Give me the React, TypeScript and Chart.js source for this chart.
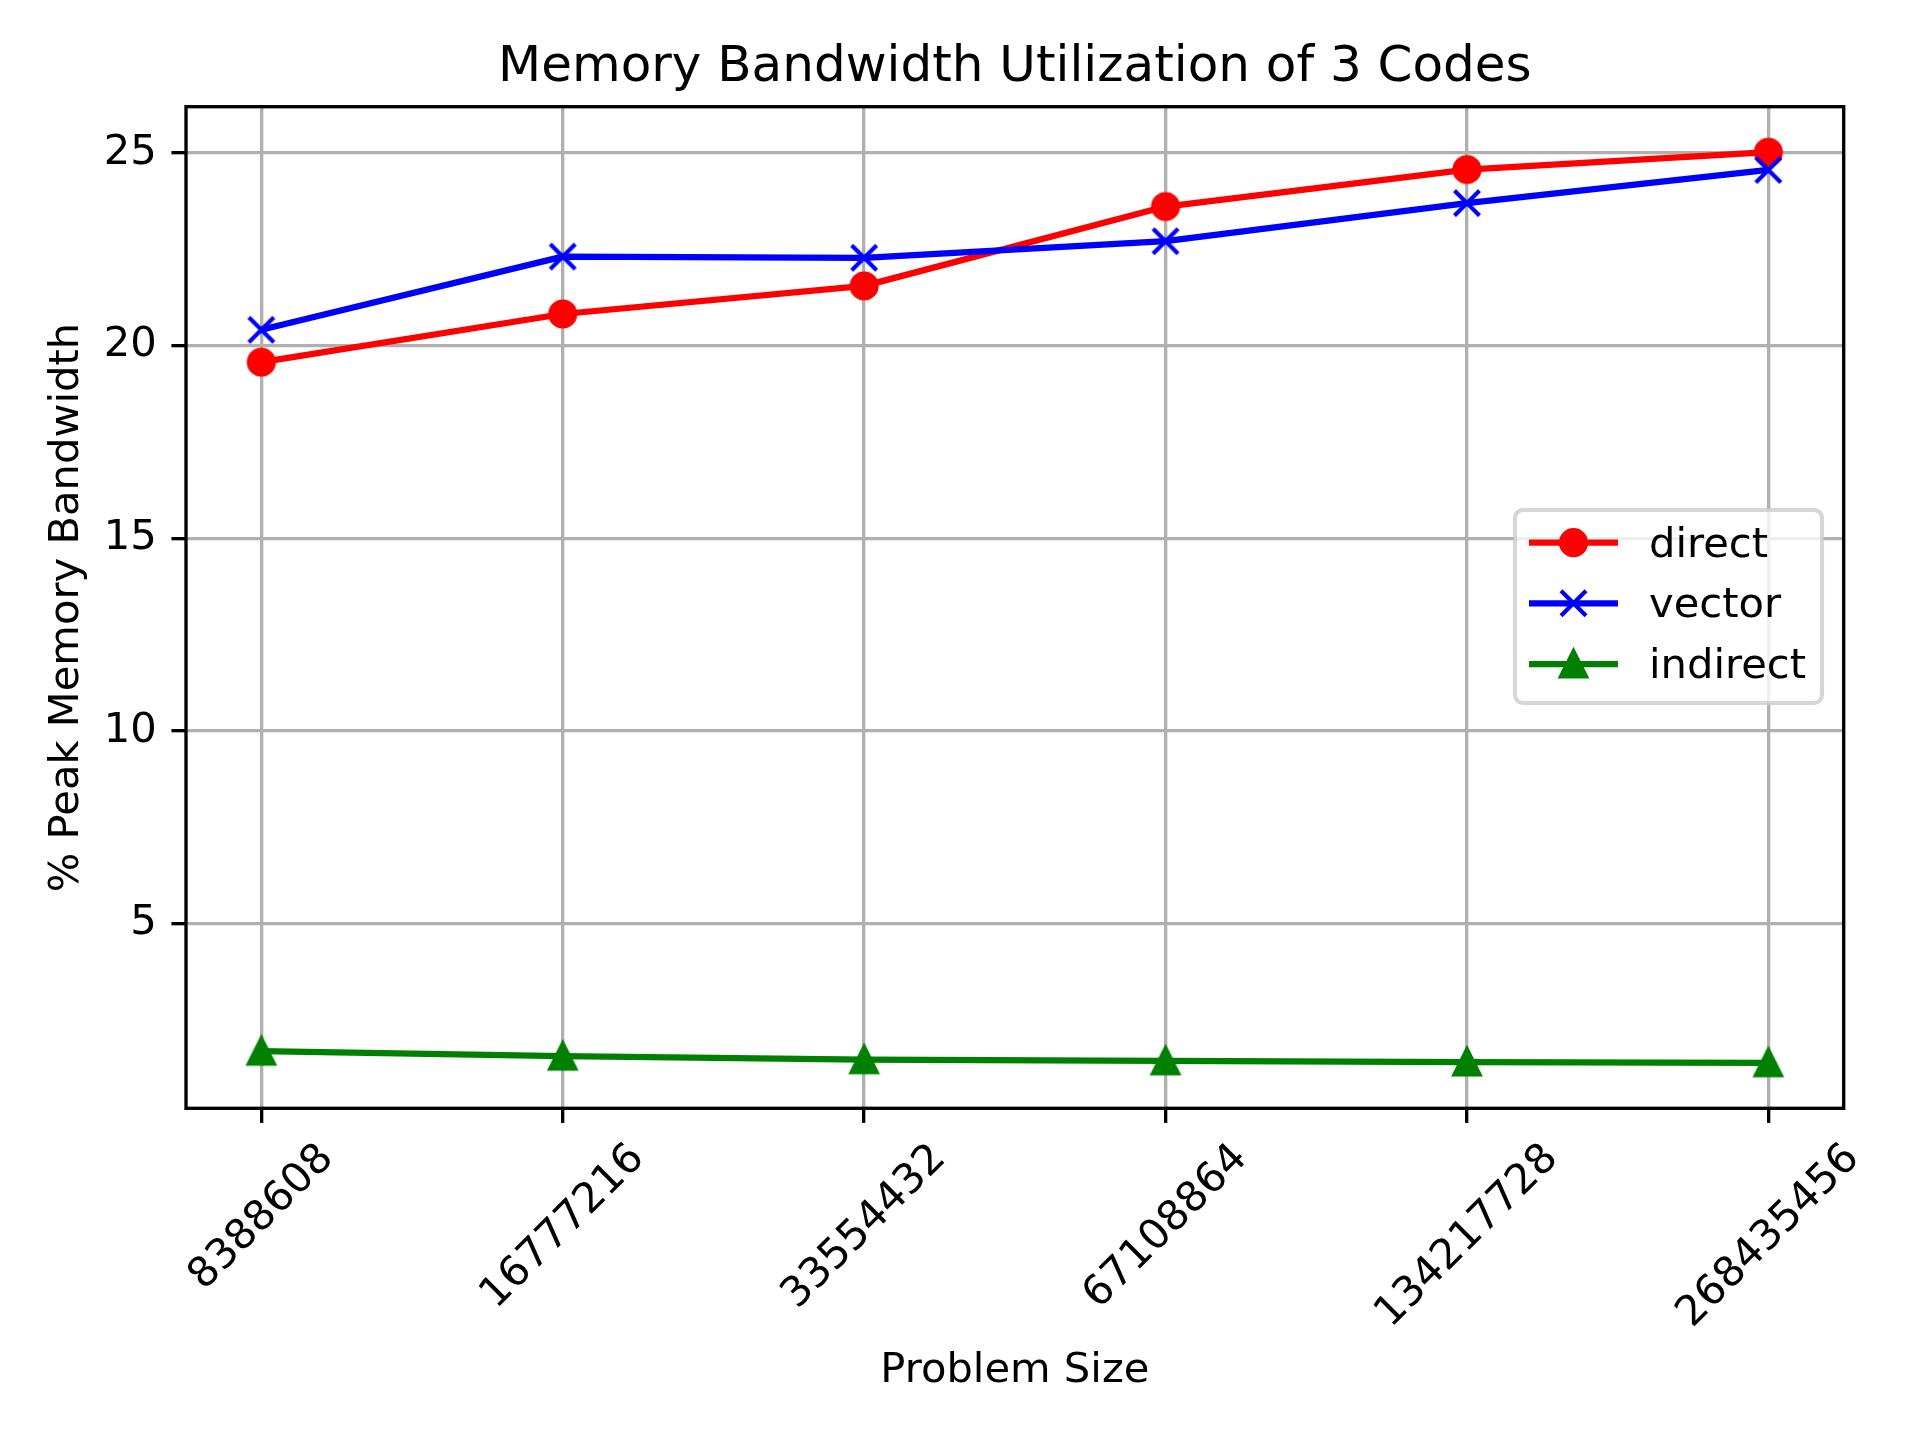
import React, { useEffect, useRef } from 'react';
import { Chart, registerables } from 'chart.js';

Chart.register(...registerables);

// ---- data ----
const problemSizes = ['8388608', '16777216', '33554432', '67108864', '134217728', '268435456'];
const directValues = [19.57, 20.82, 21.55, 23.61, 24.57, 25.02];
const vectorValues = [20.41, 22.31, 22.28, 22.71, 23.7, 24.56];
const indirectValues = [1.68, 1.55, 1.46, 1.43, 1.4, 1.38];
const yTickValues = [5, 10, 15, 20, 25];
const seriesNames = ['direct', 'vector', 'indirect'];

const titleText = 'Memory Bandwidth Utilization of 3 Codes';
const xLabelText = 'Problem Size';
const yLabelText = '% Peak Memory Bandwidth';

// ---- style ----
const PT = 300 / 72;
const FONT = '"DejaVu Sans", sans-serif';
const W = 1920;
const H = 1440;
const AREA = { left: 186, top: 106.7, right: 1843.7, bottom: 1108.3 };
const COLORS = ['#ff0000', '#0000ff', '#008000'];
const MARKERS = ['o', 'x', '^'];

function drawMarker(ctx: CanvasRenderingContext2D, kind: string, color: string, x: number, y: number) {
  const s = (6 * PT) / 2;
  ctx.save();
  ctx.fillStyle = color;
  ctx.strokeStyle = color;
  ctx.lineWidth = 1 * PT;
  if (kind === 'o') {
    ctx.beginPath();
    ctx.arc(x, y, s, 0, Math.PI * 2);
    ctx.fill();
    ctx.stroke();
  } else if (kind === 'x') {
    ctx.lineCap = 'butt';
    ctx.beginPath();
    ctx.moveTo(x - s, y - s);
    ctx.lineTo(x + s, y + s);
    ctx.moveTo(x - s, y + s);
    ctx.lineTo(x + s, y - s);
    ctx.stroke();
  } else {
    ctx.lineJoin = 'miter';
    ctx.beginPath();
    ctx.moveTo(x, y - s);
    ctx.lineTo(x - s, y + s);
    ctx.lineTo(x + s, y + s);
    ctx.closePath();
    ctx.fill();
    ctx.stroke();
  }
  ctx.restore();
}

function makeMarkerCanvas(kind: string, color: string) {
  const c = document.createElement('canvas');
  c.width = 48;
  c.height = 48;
  const ctx = c.getContext('2d')!;
  drawMarker(ctx, kind, color, 24, 24);
  return c;
}

const decorPlugin = {
  id: 'mplDecor',
  afterDraw(chart: any) {
    const ctx: CanvasRenderingContext2D = chart.ctx;
    const xs = chart.scales.x;
    const ca = chart.chartArea;
    ctx.save();

    // spines
    ctx.strokeStyle = '#000';
    ctx.lineWidth = 0.8 * PT;
    ctx.lineJoin = 'miter';
    ctx.strokeRect(ca.left, ca.top, ca.right - ca.left, ca.bottom - ca.top);

    // x tick labels (rotated 45, centered on tick)
    const fs = 10 * PT;
    ctx.font = `${fs}px ${FONT}`;
    ctx.fillStyle = '#000';
    const h = fs * 0.968;
    const d = fs * 0.208;
    const topY = ca.bottom + 3.5 * PT + 3.5 * PT;
    problemSizes.forEach((lab, i) => {
      const px = xs.getPixelForValue(i);
      const w = ctx.measureText(lab).width;
      const cy = topY + ((w + h) * Math.SQRT1_2) / 2;
      ctx.save();
      ctx.translate(px, cy);
      ctx.rotate(-Math.PI / 4);
      ctx.textAlign = 'center';
      ctx.textBaseline = 'alphabetic';
      ctx.fillText(lab, 0, h / 2 - d);
      ctx.restore();
    });

    // title
    const cx = (ca.left + ca.right) / 2;
    ctx.textAlign = 'center';
    ctx.textBaseline = 'alphabetic';
    ctx.font = `${12 * PT}px ${FONT}`;
    ctx.fillText(titleText, cx, 81);

    // x label
    ctx.font = `${fs}px ${FONT}`;
    ctx.fillText(xLabelText, cx, 1382);

    // y label
    ctx.save();
    ctx.translate(78, (ca.top + ca.bottom) / 2);
    ctx.rotate(-Math.PI / 2);
    ctx.fillText(yLabelText, 0, 0);
    ctx.restore();

    // legend
    const bx = 1515, by = 510, bw = 307, bh = 193, r = 8;
    ctx.beginPath();
    ctx.moveTo(bx + r, by);
    ctx.lineTo(bx + bw - r, by);
    ctx.arcTo(bx + bw, by, bx + bw, by + r, r);
    ctx.lineTo(bx + bw, by + bh - r);
    ctx.arcTo(bx + bw, by + bh, bx + bw - r, by + bh, r);
    ctx.lineTo(bx + r, by + bh);
    ctx.arcTo(bx, by + bh, bx, by + bh - r, r);
    ctx.lineTo(bx, by + r);
    ctx.arcTo(bx, by, bx + r, by, r);
    ctx.closePath();
    ctx.fillStyle = 'rgba(255,255,255,0.8)';
    ctx.fill();
    ctx.strokeStyle = 'rgba(204,204,204,0.8)';
    ctx.lineWidth = 1 * PT;
    ctx.stroke();

    const rows = [542.7, 603.3, 664];
    seriesNames.forEach((name, i) => {
      const ry = rows[i];
      ctx.strokeStyle = COLORS[i];
      ctx.lineWidth = 1.5 * PT;
      ctx.lineCap = 'butt';
      ctx.beginPath();
      ctx.moveTo(1529, ry);
      ctx.lineTo(1618, ry);
      ctx.stroke();
      drawMarker(ctx, MARKERS[i], COLORS[i], 1573.5, ry);
      ctx.fillStyle = '#000';
      ctx.font = `${fs}px ${FONT}`;
      ctx.textAlign = 'left';
      ctx.textBaseline = 'alphabetic';
      ctx.fillText(name, 1649, ry + 14);
    });

    ctx.restore();
  },
};

export default function App() {
  const ref = useRef<HTMLCanvasElement | null>(null);

  useEffect(() => {
    document.body.style.margin = '0';
    const canvas = ref.current;
    if (!canvas) return;
    const markerCanvases = MARKERS.map((m, i) => makeMarkerCanvas(m, COLORS[i]));
    const seriesValues = [directValues, vectorValues, indirectValues];
    const allVals = [...directValues, ...vectorValues, ...indirectValues];
    const dMin = Math.min(...allVals);
    const dMax = Math.max(...allVals);
    const yMin = dMin - 0.05 * (dMax - dMin);
    const yMax = dMax + 0.05 * (dMax - dMin);
    const n = problemSizes.length - 1;

    const gridOpts = {
      color: '#b0b0b0',
      lineWidth: 0.8 * PT,
      tickColor: '#000',
      tickWidth: 0.8 * PT,
      tickLength: 3.5 * PT,
      drawTicks: true,
    };

    const chart = new Chart(canvas, {
      type: 'line',
      data: {
        datasets: seriesNames.map((name, i) => ({
          label: name,
          data: seriesValues[i].map((v, k) => ({ x: k, y: v })),
          borderColor: COLORS[i],
          backgroundColor: COLORS[i],
          borderWidth: 1.5 * PT,
          borderJoinStyle: 'round',
          pointStyle: markerCanvases[i],
          pointRadius: 12,
          pointHoverRadius: 12,
          tension: 0,
          fill: false,
          order: 3 - i,
        })),
      } as any,
      options: {
        responsive: false,
        animation: false,
        devicePixelRatio: 1,
        events: [],
        layout: {
          padding: { top: AREA.top, right: W - AREA.right, bottom: 0, left: 0 },
        },
        plugins: {
          legend: { display: false },
          title: { display: false },
          tooltip: { enabled: false },
        },
        scales: {
          x: {
            type: 'linear',
            min: -0.05 * n,
            max: n + 0.05 * n,
            afterBuildTicks: (s: any) => {
              s.ticks = problemSizes.map((_, k) => ({ value: k }));
            },
            afterFit: (s: any) => {
              s.height = H - AREA.bottom;
            },
            ticks: { display: false },
            grid: gridOpts,
            border: { display: false },
          },
          y: {
            type: 'linear',
            min: yMin,
            max: yMax,
            afterBuildTicks: (s: any) => {
              s.ticks = yTickValues.map((v) => ({ value: v }));
            },
            afterFit: (s: any) => {
              s.width = AREA.left;
            },
            ticks: {
              color: '#000',
              font: { family: FONT, size: 10 * PT },
              padding: 3.5 * PT,
            },
            grid: gridOpts,
            border: { display: false },
          },
        },
      } as any,
      plugins: [decorPlugin],
    });

    return () => chart.destroy();
  }, []);

  return (
    <div style={{ width: W, height: H, position: 'relative', background: '#fff' }}>
      <canvas ref={ref} width={W} height={H} style={{ display: 'block', width: W, height: H }} />
    </div>
  );
}
